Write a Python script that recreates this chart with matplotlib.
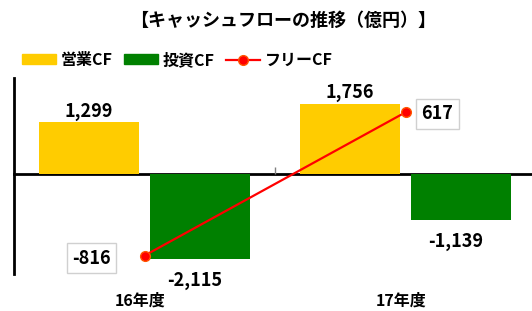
import matplotlib
matplotlib.use("Agg")
import matplotlib.pyplot as plt
from matplotlib.patches import Patch
from matplotlib.lines import Line2D
import numpy as np

plt.rcParams['font.family'] = ['Noto Sans CJK JP', 'DejaVu Sans']
plt.rcParams['font.weight'] = 'bold'

title = "【キャッシュフローの推移（億円）】"
categories = ["16年度", "17年度"]
series_names = ["営業CF", "投資CF", "フリーCF"]
operating_cf = [1299, 1756]
investing_cf = [-2115, -1139]
free_cf = [-816, 617]

c_yellow = "#FFCC00"
c_green = "#008000"
c_red = "#FF0000"

fig = plt.figure(figsize=(5.32, 3.11), dpi=100)
W, H = 532, 311
ax = fig.add_axes([14 / W, (H - 274) / H, 522 / W, 196 / H])
ax2 = ax.twinx()

x = np.arange(len(categories))
bw = 0.383
off = 0.212
ax.bar(x - off, operating_cf, bw, color=c_yellow, zorder=2)
ax.bar(x + off, investing_cf, bw, color=c_green, zorder=2)

ax.set_xlim(-0.5, 1.5)
ax.set_ylim(-2500, 2400)
ax2.set_ylim(-1000, 960)

for s in ['top', 'right']:
    ax.spines[s].set_visible(False)
    ax2.spines[s].set_visible(False)
ax2.spines['left'].set_visible(False)
ax2.spines['bottom'].set_visible(False)
ax.spines['left'].set_linewidth(2)
ax.spines['left'].set_color('black')
ax.spines['bottom'].set_position(('data', 0))
ax.spines['bottom'].set_linewidth(2)
ax.spines['bottom'].set_zorder(1)
ax.set_yticks([])
ax2.set_yticks([])
ax.set_xticks([0.5])
ax.set_xticklabels([""])
ax.tick_params(axis='x', direction='in', length=5, width=1, color='#808080')

lab_fs = 13

# category labels
for xi, lab in zip(x, categories):
    ax.annotate(lab, xy=(xi, 0), xycoords=ax.get_xaxis_transform(),
                xytext=(-3, -19), textcoords='offset points',
                ha='center', va='center', fontsize=11.5, fontweight='bold')

# bar labels
for xi, v in zip(x, operating_cf):
    ax.annotate(f"{v:,}", xy=(xi - off, v), xytext=(0, 1), textcoords='offset points',
                ha='center', va='bottom', fontsize=lab_fs, fontweight='bold', zorder=5)
for xi, v in zip(x, investing_cf):
    ax.annotate(f"{v:,}", xy=(xi + off, v), xytext=(-4, -9), textcoords='offset points',
                ha='center', va='top', fontsize=lab_fs, fontweight='bold', zorder=5)

ax.set_zorder(1)
ax2.set_zorder(2)
ax.patch.set_visible(False)

ax2.plot(x, free_cf, color=c_red, lw=1.6, marker='o', ms=7,
         markerfacecolor=c_red, markeredgecolor='#FF5500', markeredgewidth=1, zorder=3)

box = dict(boxstyle='square,pad=0.3', fc='white', ec='#D0D0D0', lw=1)
ax2.annotate(f"{free_cf[0]:,}", xy=(x[0], free_cf[0]), xytext=(-38, -2),
             textcoords='offset points', ha='center', va='center',
             fontsize=lab_fs, fontweight='bold', bbox=box)
ax2.annotate(f"{free_cf[1]:,}", xy=(x[1], free_cf[1]), xytext=(23, -1),
             textcoords='offset points', ha='center', va='center',
             fontsize=lab_fs, fontweight='bold', bbox=box)

fig.text(283 / W, 1 - 20 / H, title, ha='center', va='center',
         fontsize=13, fontweight='bold')

handles = [Patch(color=c_yellow), Patch(color=c_green),
           Line2D([0], [0], color=c_red, lw=1.6, marker='o', ms=7,
                  markerfacecolor=c_red, markeredgecolor='#FF5500')]
fig.legend(handles, series_names, loc='center left', bbox_to_anchor=(22 / W, 1 - 60 / H),
           ncol=3, frameon=False, handlelength=2.1, handleheight=0.6,
           handletextpad=0.3, columnspacing=0.75, borderpad=0, borderaxespad=0,
           prop={'weight': 'bold', 'size': 11.5})

fig.savefig("out.png", dpi=100)
